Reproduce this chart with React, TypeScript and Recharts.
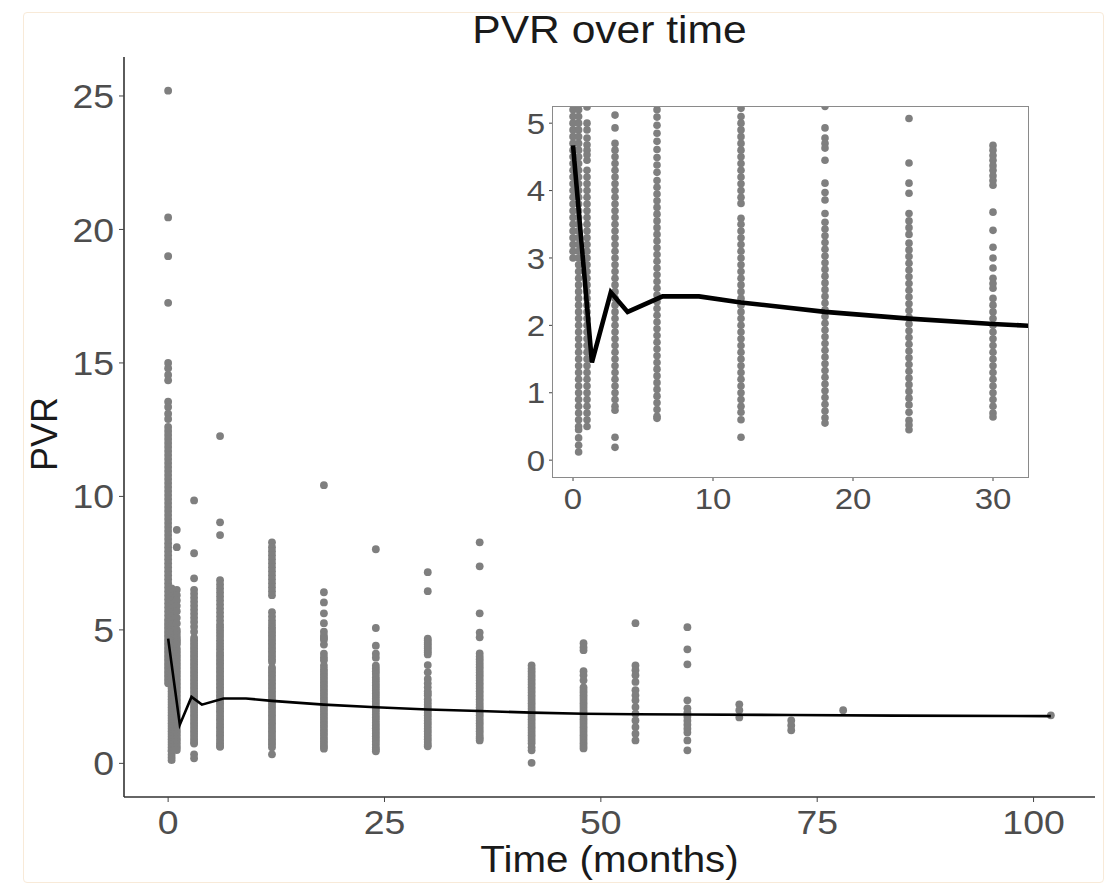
import { ComposedChart, Scatter, Line, XAxis, YAxis } from 'recharts';

const FONT = '"Liberation Sans", Arial, Helvetica, sans-serif';
const DOT = '#7f7f7f';

// visit months (x) and the PVR values measured at each visit
const visitMonths = [0, 0.4, 1, 3, 6, 12, 18, 24, 30, 36, 42, 48, 54, 60, 66, 72, 78, 102];

const pvrM0 = [25.2, 20.45, 19.0, 17.25, 15.0, 14.8, 14.55, 14.35, 13.55, 13.35, 13.1, 12.9, 12.6, 12.45, 12.3, 12.15, 12.0, 11.85, 11.7, 11.55, 11.4, 11.25, 11.1, 10.95, 10.8, 10.65, 10.5, 10.35, 10.2, 10.05, 9.9, 9.75, 9.6, 9.45, 9.3, 9.15, 9.0, 8.85, 8.7, 8.55, 8.4, 8.25, 8.1, 7.95, 7.8, 7.65, 7.5, 7.35, 7.2, 7.05, 6.9, 6.75, 6.6, 6.45, 6.3, 6.15, 6.0, 5.85, 5.7, 5.55, 5.4, 5.3, 5.2, 5.1, 5.0, 4.9, 4.8, 4.7, 4.6, 4.5, 4.4, 4.3, 4.2, 4.1, 4.0, 3.9, 3.8, 3.7, 3.6, 3.5, 3.4, 3.3, 3.2, 3.1, 3.0];
const pvrM04 = [6.55, 6.4, 6.25, 6.1, 5.95, 5.8, 5.65, 5.5, 5.35, 5.2, 5.1, 5.0, 4.9, 4.8, 4.7, 4.6, 4.5, 4.4, 4.3, 4.2, 4.1, 4.0, 3.9, 3.8, 3.7, 3.6, 3.5, 3.4, 3.3, 3.2, 3.1, 3.0, 2.9, 2.8, 2.7, 2.6, 2.5, 2.4, 2.3, 2.2, 2.1, 2.0, 1.9, 1.8, 1.7, 1.6, 1.5, 1.4, 1.3, 1.2, 1.1, 1.0, 0.9, 0.8, 0.7, 0.6, 0.5, 0.45, 0.33, 0.22, 0.12];
const pvrM1 = [8.75, 8.1, 6.5, 6.3, 6.1, 5.9, 5.7, 5.45, 5.24, 5.0, 4.9, 4.78, 4.68, 4.6, 4.53, 4.45, 4.3, 4.2, 4.1, 4.0, 3.9, 3.8, 3.7, 3.6, 3.5, 3.4, 3.3, 3.2, 3.1, 3.0, 2.9, 2.8, 2.7, 2.6, 2.5, 2.4, 2.3, 2.2, 2.1, 2.0, 1.9, 1.8, 1.7, 1.6, 1.5, 1.4, 1.3, 1.2, 1.1, 1.0, 0.9, 0.8, 0.7, 0.6, 0.5];
const pvrM3 = [9.85, 7.87, 6.93, 6.5, 6.35, 6.2, 6.05, 5.9, 5.75, 5.6, 5.45, 5.3, 5.12, 4.93, 4.7, 4.6, 4.5, 4.4, 4.3, 4.2, 4.1, 4.0, 3.9, 3.8, 3.7, 3.6, 3.5, 3.4, 3.3, 3.2, 3.1, 3.0, 2.9, 2.8, 2.7, 2.6, 2.5, 2.4, 2.3, 2.2, 2.1, 2.0, 1.9, 1.8, 1.7, 1.6, 1.5, 1.4, 1.3, 1.2, 1.1, 1.0, 0.9, 0.8, 0.74, 0.34, 0.19];
const pvrM6 = [12.26, 9.03, 8.55, 6.86, 6.7, 6.55, 6.4, 6.25, 6.1, 5.95, 5.8, 5.65, 5.5, 5.35, 5.2, 5.09, 4.97, 4.85, 4.73, 4.61, 4.49, 4.38, 4.27, 4.15, 4.05, 3.95, 3.85, 3.75, 3.65, 3.55, 3.45, 3.35, 3.25, 3.15, 3.05, 2.95, 2.85, 2.75, 2.65, 2.55, 2.45, 2.35, 2.25, 2.15, 2.05, 1.95, 1.85, 1.75, 1.65, 1.55, 1.45, 1.35, 1.25, 1.15, 1.05, 0.95, 0.85, 0.75, 0.65, 0.62];
const pvrM12 = [8.28, 8.1, 7.95, 7.8, 7.65, 7.5, 7.35, 7.2, 7.05, 6.9, 6.75, 6.6, 6.45, 6.3, 5.66, 5.5, 5.35, 5.22, 5.1, 5.0, 4.9, 4.8, 4.7, 4.6, 4.5, 4.4, 4.3, 4.2, 4.1, 4.0, 3.9, 3.81, 3.59, 3.5, 3.4, 3.3, 3.2, 3.1, 3.0, 2.9, 2.8, 2.7, 2.6, 2.5, 2.4, 2.3, 2.2, 2.1, 2.0, 1.9, 1.8, 1.7, 1.6, 1.5, 1.4, 1.3, 1.2, 1.1, 1.0, 0.9, 0.8, 0.71, 0.6, 0.34];
const pvrM18 = [10.42, 6.41, 6.03, 5.62, 5.25, 4.93, 4.78, 4.7, 4.63, 4.45, 4.11, 3.97, 3.86, 3.66, 3.53, 3.43, 3.33, 3.23, 3.13, 3.03, 2.93, 2.83, 2.73, 2.63, 2.53, 2.43, 2.33, 2.23, 2.13, 2.03, 1.93, 1.83, 1.73, 1.63, 1.53, 1.43, 1.33, 1.23, 1.13, 1.03, 0.93, 0.83, 0.73, 0.63, 0.55];
const pvrM24 = [8.02, 5.07, 4.41, 4.11, 3.96, 3.66, 3.55, 3.45, 3.35, 3.22, 3.12, 3.02, 2.92, 2.82, 2.72, 2.62, 2.52, 2.42, 2.32, 2.22, 2.12, 2.02, 1.92, 1.82, 1.72, 1.62, 1.52, 1.42, 1.32, 1.22, 1.12, 1.02, 0.92, 0.82, 0.71, 0.59, 0.52, 0.45];
const pvrM30 = [7.16, 6.45, 4.67, 4.6, 4.52, 4.45, 4.37, 4.3, 4.22, 4.15, 4.08, 3.68, 3.41, 3.16, 3.0, 2.85, 2.7, 2.62, 2.55, 2.4, 2.3, 2.2, 2.1, 2.0, 1.9, 1.8, 1.7, 1.6, 1.5, 1.4, 1.3, 1.2, 1.1, 1.0, 0.9, 0.8, 0.7, 0.64];
const pvrM36 = [8.28, 7.38, 5.62, 4.9, 4.72, 4.12, 4.0, 3.9, 3.8, 3.7, 3.6, 3.5, 3.4, 3.3, 3.2, 3.1, 3.0, 2.9, 2.8, 2.7, 2.6, 2.5, 2.4, 2.3, 2.2, 2.1, 2.0, 1.9, 1.8, 1.7, 1.6, 1.5, 1.4, 1.3, 1.2, 1.1, 1.0, 0.93, 0.86];
const pvrM42 = [3.67, 3.55, 3.45, 3.35, 3.25, 3.15, 3.05, 2.95, 2.85, 2.75, 2.65, 2.55, 2.45, 2.35, 2.25, 2.15, 2.05, 1.95, 1.85, 1.75, 1.65, 1.55, 1.45, 1.35, 1.25, 1.15, 1.05, 0.95, 0.85, 0.75, 0.6, 0.49, 0.02];
const pvrM48 = [4.5, 4.35, 4.24, 3.45, 3.3, 3.11, 2.85, 2.75, 2.65, 2.55, 2.45, 2.35, 2.25, 2.15, 2.05, 1.95, 1.85, 1.75, 1.65, 1.55, 1.45, 1.35, 1.25, 1.15, 1.05, 0.95, 0.85, 0.75, 0.65, 0.56];
const pvrM54 = [5.25, 3.67, 3.49, 3.3, 3.05, 2.74, 2.55, 2.36, 2.11, 1.86, 1.61, 1.36, 1.11, 0.86];
const pvrM60 = [5.1, 4.27, 3.71, 2.36, 2.06, 1.9, 1.75, 1.6, 1.45, 1.3, 1.16, 0.86, 0.49];
const pvrM66 = [2.21, 1.99, 1.72];
const pvrM72 = [1.61, 1.42, 1.24];
const pvrM78 = [1.99];
const pvrM102 = [1.8];

const pvrByVisit = [pvrM0, pvrM04, pvrM1, pvrM3, pvrM6, pvrM12, pvrM18, pvrM24, pvrM30, pvrM36, pvrM42, pvrM48, pvrM54, pvrM60, pvrM66, pvrM72, pvrM78, pvrM102];

// fitted mean trajectory
const trendMonths = [0, 1.35, 2.7, 3.9, 6.4, 9, 12, 18, 24, 30, 36, 42, 48, 54, 60, 72, 84, 102];
const trendPvr = [4.67, 1.45, 2.49, 2.2, 2.43, 2.43, 2.34, 2.2, 2.1, 2.02, 1.96, 1.9, 1.86, 1.84, 1.83, 1.81, 1.79, 1.77];

const mainXTicks = [0, 25, 50, 75, 100];
const mainYTicks = [0, 5, 10, 15, 20, 25];
const insetXTicks = [0, 10, 20, 30];
const insetYTicks = [0, 1, 2, 3, 4, 5];

const points = visitMonths.flatMap((t, i) => pvrByVisit[i].map((v) => ({ t, v })));
const trend = trendMonths.map((t, i) => ({ t, v: trendPvr[i] }));

const dot = (r: number) => (p: any) => <circle cx={p.cx} cy={p.cy} r={r} fill={DOT} />;

// tick text, a little wider than the font (the source image is stretched)
const tick = (size: number, axis: 'x' | 'y', show: boolean) => (p: any) => {
  if (!show) return <g />;
  return (
    <text
      x={p.x}
      y={p.y}
      dy={axis === 'x' ? '0.71em' : '0.355em'}
      textAnchor={axis === 'x' ? 'middle' : 'end'}
      fontSize={size}
      fontFamily={FONT}
      fill="#4d4d4d"
      transform={`translate(${p.x} 0) scale(1.1 1) translate(${-p.x} 0)`}
    >
      {p.payload.value}
    </text>
  );
};

interface PanelProps {
  width: number;
  height: number;
  margin: { top: number; right: number; bottom: number; left: number };
  xDomain: [number, number];
  yDomain: [number, number];
  xTicks: number[];
  yTicks: number[];
  xHeight: number;
  yWidth: number;
  tickSize: number;
  xMargin: number;
  yMargin: number;
  fontSize: number;
  axisLines: boolean;
  dotR: number;
  lineW: number;
  layer: 'points' | 'trend';
}

function Panel(o: PanelProps) {
  const show = o.layer === 'points';
  const axisLine = show && o.axisLines ? { stroke: '#333', strokeWidth: 1.6 } : false;
  const tickLine = show ? { stroke: '#444' } : false;
  return (
    <ComposedChart width={o.width} height={o.height} margin={o.margin}>
      <XAxis
        type="number"
        dataKey="t"
        domain={o.xDomain}
        ticks={o.xTicks}
        allowDataOverflow
        height={o.xHeight}
        tickSize={o.tickSize}
        tickMargin={o.xMargin}
        tick={tick(o.fontSize, 'x', show)}
        axisLine={axisLine}
        tickLine={tickLine}
      />
      <YAxis
        type="number"
        dataKey="v"
        domain={o.yDomain}
        ticks={o.yTicks}
        allowDataOverflow
        width={o.yWidth}
        tickSize={o.tickSize}
        tickMargin={o.yMargin}
        tick={tick(o.fontSize, 'y', show)}
        axisLine={axisLine}
        tickLine={tickLine}
      />
      {show ? (
        <Scatter data={points} shape={dot(o.dotR)} isAnimationActive={false} />
      ) : (
        <Line data={trend} dataKey="v" type="linear" stroke="#000" strokeWidth={o.lineW} dot={false} isAnimationActive={false} />
      )}
    </ComposedChart>
  );
}

const mainOpts = {
  width: 1117,
  height: 884,
  margin: { top: 57, right: 22, bottom: 7, left: 0 },
  xDomain: [-5.1, 107.1] as [number, number],
  yDomain: [-1.26, 26.46] as [number, number],
  xTicks: mainXTicks,
  yTicks: mainYTicks,
  xHeight: 80,
  yWidth: 124,
  tickSize: 5,
  xMargin: 8,
  yMargin: 5,
  fontSize: 34,
  axisLines: true,
  dotR: 3.9,
  lineW: 2.6,
};

const insetOpts = {
  width: 540,
  height: 430,
  margin: { top: 10, right: 12, bottom: 10, left: 0 },
  xDomain: [-1.43, 32.5] as [number, number],
  yDomain: [-0.25, 5.24] as [number, number],
  xTicks: insetXTicks,
  yTicks: insetYTicks,
  xHeight: 40,
  yWidth: 53,
  tickSize: 4,
  xMargin: 7,
  yMargin: 4,
  fontSize: 30,
  axisLines: false,
  dotR: 3.8,
  lineW: 4.6,
};

const layerStyle = { position: 'absolute' as const, left: 0, top: 0 };

export default function App() {
  return (
    <div style={{ position: 'absolute', left: 0, top: 0, width: 1117, height: 884, background: '#fff', fontFamily: FONT, overflow: 'hidden' }}>
      <div style={{ position: 'absolute', left: 23, top: 12, width: 1079, height: 869, border: '1px solid #f8ead8', borderRadius: 4 }} />
      <div style={layerStyle}>
        <Panel {...mainOpts} layer="points" />
      </div>
      <div style={layerStyle}>
        <Panel {...mainOpts} layer="trend" />
      </div>
      <div style={{ position: 'absolute', left: 500, top: 97, width: 540, height: 430, background: '#fff' }}>
        <div style={layerStyle}>
          <Panel {...insetOpts} layer="points" />
        </div>
        <div style={layerStyle}>
          <Panel {...insetOpts} layer="trend" />
        </div>
      </div>
      <div style={{ position: 'absolute', left: 552, top: 106, width: 477, height: 372, boxSizing: 'border-box', border: '1.5px solid #8a8a8a', pointerEvents: 'none' }} />
      <div style={{ position: 'absolute', left: 124, top: 11, width: 971, textAlign: 'center', fontSize: 38, lineHeight: '38px', color: '#1a1a1a', transform: 'scaleX(1.12)' }}>
        PVR over time
      </div>
      <div style={{ position: 'absolute', left: 124, top: 842, width: 971, textAlign: 'center', fontSize: 36, lineHeight: '36px', color: '#1a1a1a', transform: 'scaleX(1.12)' }}>
        Time (months)
      </div>
      <div style={{ position: 'absolute', left: 45, top: 434, transform: 'translate(-50%, -50%) rotate(-90deg)', fontSize: 36, lineHeight: '36px', color: '#1a1a1a', whiteSpace: 'nowrap' }}>
        PVR
      </div>
    </div>
  );
}
